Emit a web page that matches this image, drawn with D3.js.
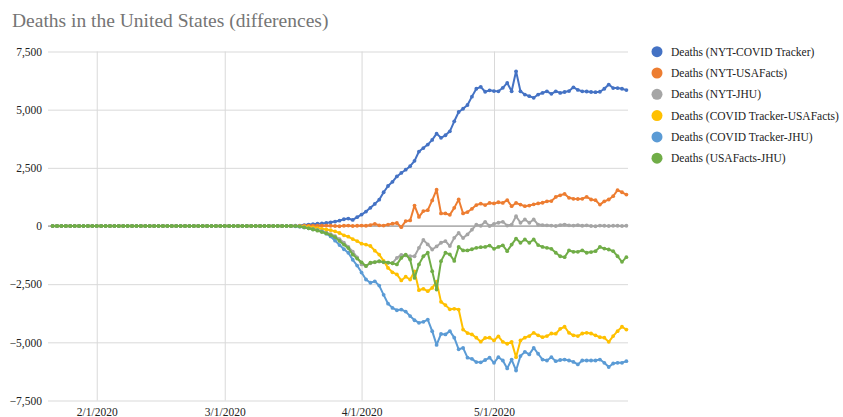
<!DOCTYPE html>
<html>
<head>
<meta charset="utf-8">
<script src="https://cdn.jsdelivr.net/npm/d3@7"></script>
<style>
  body { margin: 0; background: #fff; }
  svg { display: block; }
  svg text { font-family: "Liberation Serif", "Times New Roman", serif; }
</style>
</head>
<body>
<div id="chart"></div>
<script>
const WIDTH = 843;
const HEIGHT = 417;
const FONT = "'Liberation Serif', 'Times New Roman', serif";

// first day of data, one point per day after that
const START_DATE = new Date(2020, 0, 22);

const seriesNames = [
    "Deaths (NYT-COVID Tracker)",
    "Deaths (NYT-USAFacts)",
    "Deaths (NYT-JHU)",
    "Deaths (COVID Tracker-USAFacts)",
    "Deaths (COVID Tracker-JHU)",
    "Deaths (USAFacts-JHU)"
];
const seriesColors = ["#4472c4", "#ed7d31", "#a5a5a5", "#ffc000", "#5b9bd5", "#70ad47"];

const yTicks = [7500, 5000, 2500, 0, -2500, -5000, -7500];
const xTickLabels = ["2/1/2020", "3/1/2020", "4/1/2020", "5/1/2020"];

const nytCovidTracker = [
    0, 0, 0, 0, 0, 0, 0, 0, 0, 0, 0, 0, 0, 0, 0, 0, 0, 0, 0, 0,
    0, 0, 0, 0, 0, 0, 0, 0, 0, 0, 0, 0, 0, 0, 0, 0, 0, 0, 0, 0,
    0, 0, 0, 0, 0, 0, 0, 0, 0, 0, 0, 0, 0, 0, 0,
    10, 20, 40, 60, 80, 100, 110, 130, 160, 190, 230, 290, 320, 260, 380,
    490, 620, 780, 950, 1130, 1450, 1720, 1900, 2130, 2280, 2420, 2570, 2800, 3200, 3350,
    3500, 3700, 3970, 3790, 3900, 4070, 4500, 4900, 5040, 5200, 5560, 5900, 5980, 5770, 5830,
    5800, 5790, 5940, 6150, 5790, 6650, 5790, 5650, 5580, 5510, 5650, 5720, 5790, 5680, 5790,
    5720, 5760, 5800, 5960, 5850, 5790, 5780, 5760, 5750, 5770, 5900, 6080, 5930, 5930, 5900,
    5840
];

const nytUsaFacts = [
    0, 0, 0, 0, 0, 0, 0, 0, 0, 0, 0, 0, 0, 0, 0, 0, 0, 0, 0, 0,
    0, 0, 0, 0, 0, 0, 0, 0, 0, 0, 0, 0, 0, 0, 0, 0, 0, 0, 0, 0,
    0, 0, 0, 0, 0, 0, 0, 0, 0, 0, 0, 0, 0, 0, 0,
    0, 5, 10, 15, 20, 10, 15, 20, 10, 0, -10, 10, 20, 0, 10,
    20, 10, 40, 90, 30, 20, 60, 100, 130, -50, 210, 240, 880, 390, 640,
    680, 1100, 1560, 540, 540, 480, 780, 1140, 540, 600, 740, 900, 960, 900, 990,
    970, 1020, 990, 1110, 850, 990, 920, 850, 880, 930, 970, 1000, 1060, 1070, 1250,
    1320, 1380, 1210, 1170, 1160, 1170, 1250, 1140, 1110, 920, 1060, 1140, 1280, 1540, 1450,
    1350
];

const nytJhu = [
    0, 0, 0, 0, 0, 0, 0, 0, 0, 0, 0, 0, 0, 0, 0, 0, 0, 0, 0, 0,
    0, 0, 0, 0, 0, 0, 0, 0, 0, 0, 0, 0, 0, 0, 0, 0, 0, 0, 0, 0,
    0, 0, 0, 0, 0, 0, 0, 0, 0, 0, 0, 0, 0, 0, 0,
    -5, -20, -40, -70, -120, -170, -220, -280, -350, -440, -560, -720, -900, -1100, -1350,
    -1650, -1720, -1600, -1560, -1530, -1560, -1580, -1600, -1370, -1240, -1260, -1300, -1300, -940, -600,
    -790, -1010, -880, -720, -650, -860, -510, -300, -520, -360, -160, 60, 10, 180, 0,
    90, 140, 180, 20, 60, 420, 140, 280, 140, 280, 60, 40, 30, 20, 0,
    40, 60, 30, 20, 40, 10, 30, 0, -10, 20, 10, 0, 10, 10, 0,
    10
];

const covidTrackerUsaFacts = [
    0, 0, 0, 0, 0, 0, 0, 0, 0, 0, 0, 0, 0, 0, 0, 0, 0, 0, 0, 0,
    0, 0, 0, 0, 0, 0, 0, 0, 0, 0, 0, 0, 0, 0, 0, 0, 0, 0, 0, 0,
    0, 0, 0, 0, 0, 0, 0, 0, 0, 0, 0, 0, 0, 0, 0,
    -5, -10, -20, -40, -60, -90, -120, -150, -180, -230, -300, -400, -460, -560, -650,
    -760, -800, -860, -1060, -1230, -1500, -1800, -1990, -2080, -2340, -2180, -2300, -1950, -2760, -2700,
    -2800, -2660, -2390, -3260, -3400, -3580, -3560, -3590, -4450, -4600, -4660, -4800, -4970, -4810, -4800,
    -4920, -4740, -4980, -5060, -4980, -5640, -4920, -4800, -4730, -4590, -4700, -4780, -4730, -4620, -4630,
    -4420, -4330, -4590, -4700, -4730, -4620, -4590, -4620, -4700, -4780, -4800, -4980, -4730, -4520, -4330,
    -4450
];

const covidTrackerJhu = [
    0, 0, 0, 0, 0, 0, 0, 0, 0, 0, 0, 0, 0, 0, 0, 0, 0, 0, 0, 0,
    0, 0, 0, 0, 0, 0, 0, 0, 0, 0, 0, 0, 0, 0, 0, 0, 0, 0, 0, 0,
    0, 0, 0, 0, 0, 0, 0, 0, 0, 0, 0, 0, 0, 0, 0,
    -10, -30, -60, -100, -140, -180, -230, -330, -450, -630, -820, -1000, -1150, -1450, -1700,
    -2000, -2300, -2440, -2380, -2560, -2960, -3340, -3520, -3620, -3590, -3680, -3870, -4050, -4160, -4120,
    -4020, -4520, -5110, -4640, -4660, -4520, -4800, -5300, -5240, -5660, -5710, -5850, -5860, -5760, -5660,
    -5880, -5640, -5780, -6120, -5740, -6210, -5590, -5410, -5520, -5240, -5490, -5740, -5780, -5640, -5810,
    -5760, -5740, -5780, -5840, -5950, -5780, -5780, -5780, -5780, -5740, -5880, -6060, -5910, -5880, -5880,
    -5810
];

const usaFactsJhu = [
    0, 0, 0, 0, 0, 0, 0, 0, 0, 0, 0, 0, 0, 0, 0, 0, 0, 0, 0, 0,
    0, 0, 0, 0, 0, 0, 0, 0, 0, 0, 0, 0, 0, 0, 0, 0, 0, 0, 0, 0,
    0, 0, 0, 0, 0, 0, 0, 0, 0, 0, 0, 0, 0, 0, 0,
    -5, -20, -60, -100, -150, -200, -260, -320, -390, -480, -640, -800, -950, -1230, -1400,
    -1560, -1720, -1580, -1550, -1510, -1550, -1570, -1600, -1650, -1370, -1230, -1440, -2230, -1650, -1300,
    -1150, -1940, -2730, -1510, -1150, -1220, -1500, -900, -1050, -1050, -1000, -940, -910, -900, -840,
    -980, -900, -830, -1080, -800, -540, -720, -580, -720, -580, -820, -900, -940, -980, -1150,
    -1300, -1340, -1050, -1110, -1110, -1050, -1150, -1120, -1080, -900, -970, -1010, -1080, -1300, -1540,
    -1340
];

const allSeries = [nytCovidTracker, nytUsaFacts, nytJhu, covidTrackerUsaFacts, covidTrackerJhu, usaFactsJhu];

const dates = nytCovidTracker.map((d, i) => d3.timeDay.offset(START_DATE, i));
const parseTick = d3.timeParse("%m/%d/%Y");

// chart area in pixels
const PLOT_LEFT = 48;
const PLOT_RIGHT = 628;
const PLOT_TOP = 51.5;
const PLOT_BOTTOM = 400.5;

const x = d3.scaleTime()
    .domain([dates[0], dates[dates.length - 1]])
    .range([52.6, 626.4]);

const y = d3.scaleLinear()
    .domain([-7500, 7500])
    .range([PLOT_BOTTOM, PLOT_TOP]);

const svg = d3.select("#chart")
    .append("svg")
    .attr("width", WIDTH)
    .attr("height", HEIGHT)
    .attr("font-family", FONT);

svg.append("text")
    .attr("x", 12)
    .attr("y", 27)
    .attr("font-family", FONT)
    .style("font-size", "19.5px")
    .style("fill", "#757575")
    .text("Deaths in the United States (differences)");

// horizontal gridlines + labels
const yAxis = d3.axisLeft(y)
    .tickValues(yTicks)
    .tickSize(-(PLOT_RIGHT - PLOT_LEFT))
    .tickPadding(6)
    .tickFormat(d3.format(","));

svg.append("g")
    .attr("transform", "translate(" + PLOT_LEFT + ",0)")
    .call(yAxis)
    .attr("font-family", FONT)
    .call(g => g.select(".domain").remove())
    .call(g => g.selectAll(".tick line")
        .attr("stroke", "#d9d9d9")
        .attr("stroke-width", 1))
    .call(g => g.selectAll(".tick text")
        .attr("x", -6)
        .style("font-size", "11.5px")
        .style("fill", "#222"));

// vertical gridlines on month starts
const xAxis = d3.axisBottom(x)
    .tickValues(xTickLabels.map(parseTick))
    .tickSize(-(PLOT_BOTTOM - PLOT_TOP))
    .tickPadding(6)
    .tickFormat(d3.timeFormat("%-m/%-d/%Y"));

svg.append("g")
    .attr("transform", "translate(0," + PLOT_BOTTOM + ")")
    .call(xAxis)
    .attr("font-family", FONT)
    .call(g => g.select(".domain").remove())
    .call(g => g.selectAll(".tick line")
        .attr("stroke", "#d9d9d9")
        .attr("stroke-width", 1))
    .call(g => g.selectAll(".tick text")
        .attr("y", 7)
        .style("font-size", "11.5px")
        .style("fill", "#222"));

// baseline at zero
svg.append("line")
    .attr("x1", PLOT_LEFT)
    .attr("x2", PLOT_RIGHT)
    .attr("y1", y(0))
    .attr("y2", y(0))
    .attr("stroke", "#8c8c8c")
    .attr("stroke-width", 1.2);

const line = d3.line()
    .x((d, i) => x(dates[i]))
    .y(d => y(d));

allSeries.forEach(function (values, s) {
    const g = svg.append("g");
    g.append("path")
        .datum(values)
        .attr("fill", "none")
        .attr("stroke", seriesColors[s])
        .attr("stroke-width", 2)
        .attr("stroke-linejoin", "round")
        .attr("d", line);
    g.selectAll("circle")
        .data(values)
        .enter().append("circle")
        .attr("cx", (d, i) => x(dates[i]))
        .attr("cy", d => y(d))
        .attr("r", 1.9)
        .attr("fill", seriesColors[s]);
});

// legend
const legend = svg.append("g")
    .selectAll("g")
    .data(seriesNames)
    .enter().append("g")
    .attr("transform", (d, i) => "translate(657," + (51.7 + i * 21.3) + ")");

legend.append("circle")
    .attr("r", 5.5)
    .attr("fill", (d, i) => seriesColors[i]);

legend.append("text")
    .attr("x", 14)
    .attr("y", 4)
    .style("font-size", "11.5px")
    .style("fill", "#222")
    .text(d => d);
</script>
</body>
</html>
